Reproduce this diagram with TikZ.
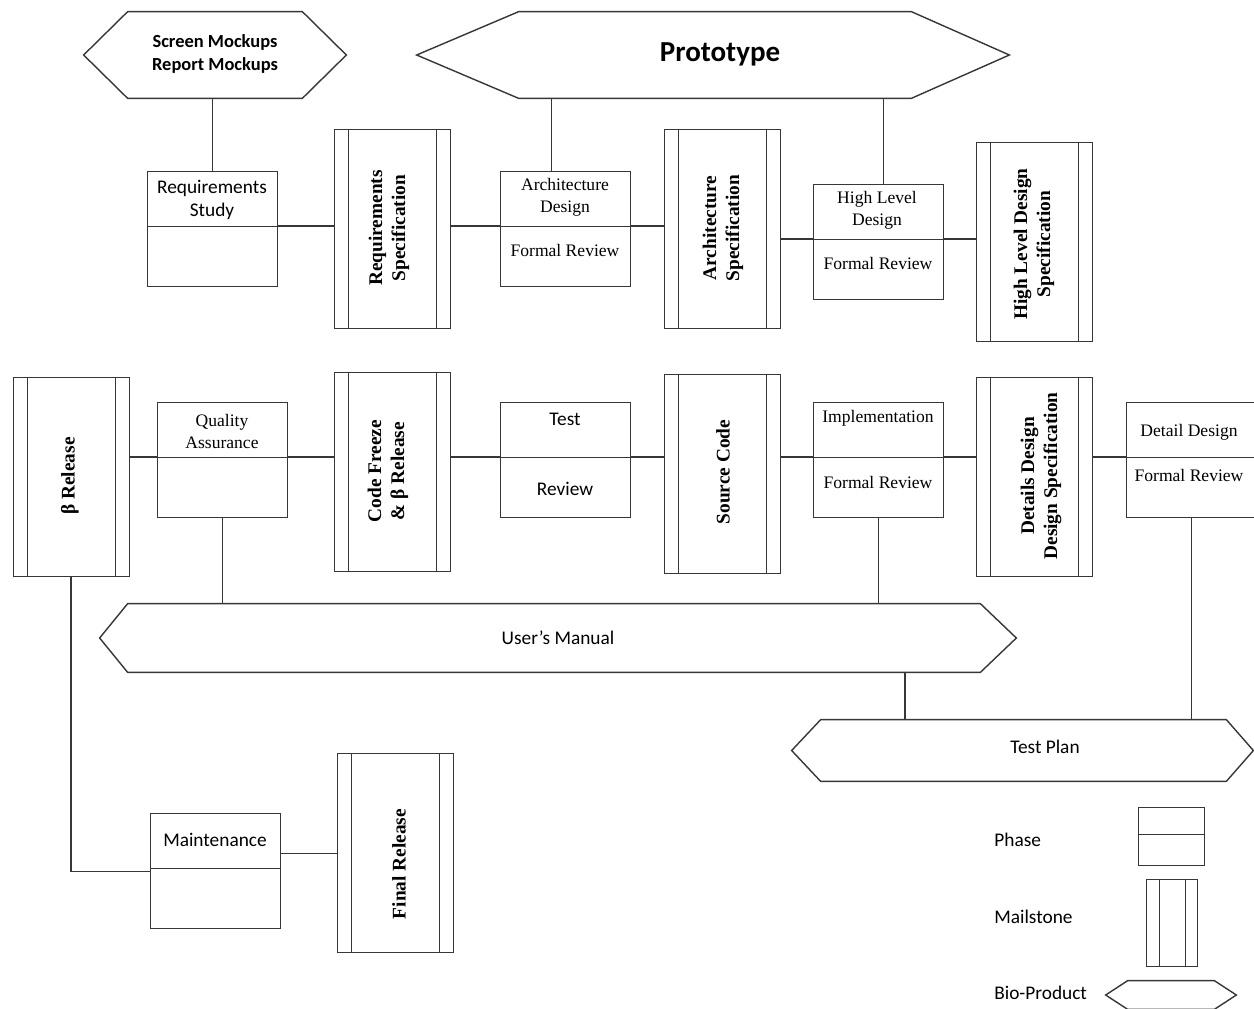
\documentclass[tikz,border=0pt]{standalone}
\usepackage{fontspec}
\setmainfont{Liberation Serif}
\newfontfamily\calib{Carlito}
\newlength\pxl
\setlength\pxl{0.02cm}
\definecolor{ink}{RGB}{55,55,55}
% hexagonal by-product outline around an invisible rectangular node:
% #1 node name, #2 left point depth, #3 right point depth (in px units)
\newcommand\bioshape[3]{%
  \draw[line] (#1.north west) -- (#1.north east) -- ([xshift=#3\pxl]#1.east)
    -- (#1.south east) -- (#1.south west) -- ([xshift=-#2\pxl]#1.west) -- cycle;}
\begin{document}
\begin{tikzpicture}[x=0.02cm,y=-0.02cm,
  line/.style={draw=ink, line width=0.8pt},
  phase/.style={rectangle, draw=ink, line width=0.8pt, minimum width=130\pxl,
    minimum height=115\pxl, inner sep=0pt, anchor=north west,
    path picture={\draw[ink, line width=0.8pt]
      ([yshift=-#1]path picture bounding box.north west) --
      ([yshift=-#1]path picture bounding box.north east);}},
  phase/.default=55\pxl,
  milestone/.style={rectangle, draw=ink, line width=0.8pt, minimum width=116\pxl,
    minimum height=199\pxl, inner sep=0pt, anchor=north west,
    path picture={\draw[ink, line width=0.8pt]
      ([xshift=#1]path picture bounding box.north west) --
      ([xshift=#1]path picture bounding box.south west)
      ([xshift=-#1]path picture bounding box.north east) --
      ([xshift=-#1]path picture bounding box.south east);}},
  milestone/.default=14\pxl,
  hexbox/.style={rectangle, inner sep=0pt, draw=none},
  sans/.style={font=\calib\fontsize{11}{13.5}\selectfont, align=center, text=black, inner sep=0pt},
  serif/.style={font=\fontsize{10}{12.5}\selectfont, align=center, text=black, inner sep=0pt},
  mile/.style={font=\bfseries\fontsize{11}{13}\selectfont, align=center, rotate=90, text=black, inner sep=0pt}
]
\useasboundingbox (0,0) rectangle (1254,1008);

% ---------------- by-products ----------------
\node[hexbox, minimum width=174\pxl, minimum height=86\pxl] (smock) at (215,55) {};
\bioshape{smock}{44}{44}
\node[font=\calib\bfseries\fontsize{10.5}{13}\selectfont, align=center, inner sep=0pt] (smock-t) at (215,54) {Screen Mockups\\Report Mockups};

\node[hexbox, minimum width=392\pxl, minimum height=86\pxl] (proto) at (715,55) {};
\bioshape{proto}{102}{98}
\node[font=\calib\bfseries\fontsize{16.5}{18}\selectfont, inner sep=0pt] (proto-t) at (720,54) {Prototype};

\node[hexbox, minimum width=852\pxl, minimum height=68\pxl] (uman) at (554,638) {};
\bioshape{uman}{28}{36}
\node[sans] (uman-t) at (558,638) {User’s Manual};

\node[hexbox, minimum width=405\pxl, minimum height=61\pxl] (tplan) at (1023.5,750.5) {};
\bioshape{tplan}{29}{27}
\node[sans] (tplan-t) at (1045,747) {Test Plan};

% ---------------- first row ----------------
\node[phase] (rstudy) at (147,171) {};
\node[sans] (rstudy-t) at (212,200) {Requirements\\Study};
\node[milestone] (rspec) at (334,129) {};
\node[mile] (rspec-t) at (389,228) {Requirements\\Specification};
\node[phase] (archd) at (500,171) {};
\node[serif] (archd-t) at (565,197) {Architecture\\Design};
\node[serif] (archd-r) at (565,250) {Formal Review};
\node[milestone] (aspec) at (664,129) {};
\node[mile] (aspec-t) at (723,228) {Architecture\\Specification};
\node[phase] (hld) at (813,184) {};
\node[serif] (hld-t) at (877,210) {High Level\\Design};
\node[serif] (hld-r) at (878,263) {Formal Review};
\node[milestone] (hspec) at (976,142) {};
\node[mile] (hspec-t) at (1034,244) {High Level Design\\Specification};

% ---------------- second row ----------------
\node[milestone] (betar) at (13,377) {};
\node[mile] (betar-t) at (70,476) {β Release};
\node[phase] (qa) at (157,402) {};
\node[serif] (qa-t) at (222,431) {Quality\\Assurance};
\node[milestone] (cf) at (334,372) {};
\node[mile] (cf-t) at (388,471) {Code Freeze\\\& β Release};
\node[phase] (test) at (500,402) {};
\node[sans] (test-t) at (565,419) {Test};
\node[sans] (test-r) at (565,489) {Review};
\node[milestone] (src) at (664,374) {};
\node[mile] (src-t) at (723,472) {Source Code};
\node[phase] (impl) at (813,402) {};
\node[serif] (impl-t) at (878,418) {Implementation};
\node[serif] (impl-r) at (878,482) {Formal Review};
\node[milestone] (dds) at (976,377) {};
\node[mile] (dds-t) at (1041,476) {Details Design\\Design Specification};
\node[phase] (dd) at (1126,402) {};
\node[serif] (dd-t) at (1189,432) {Detail Design};
\node[serif] (dd-r) at (1189,475) {Formal Review};

% ---------------- third row ----------------
\node[phase] (maint) at (150,813) {};
\node[sans] (maint-t) at (215,840) {Maintenance};
\node[milestone] (final) at (337,753) {};
\node[mile] (final-t) at (399,864) {Final Release};

% ---------------- divider levels used by the connectors ----------------
\coordinate (rstudy-d) at ([yshift=-55\pxl]rstudy.north east);
\coordinate (archd-d) at ([yshift=-55\pxl]archd.north west);
\coordinate (hld-d) at ([yshift=-55\pxl]hld.north west);
\coordinate (row2) at ([yshift=-55\pxl]qa.north west);

% ---------------- connectors ----------------
\draw[line] (rstudy.north |- smock.south) -- (rstudy.north);
\coordinate (pa) at ([xshift=-14\pxl]archd.north);
\draw[line] (pa |- proto.south) -- (pa);
\coordinate (ph) at ([xshift=5\pxl]hld.north);
\draw[line] (ph |- proto.south) -- (ph);

\draw[line] (rstudy-d) -- (rstudy-d -| rspec.west);
\draw[line] (rstudy-d -| rspec.east) -- (archd-d);
\draw[line] (archd-d -| archd.east) -- (archd-d -| aspec.west);
\draw[line] (hld-d -| aspec.east) -- (hld-d);
\draw[line] (hld-d -| hld.east) -- (hld-d -| hspec.west);

\draw[line] (row2 -| betar.east) -- (row2 -| qa.west);
\draw[line] (row2 -| qa.east) -- (row2 -| cf.west);
\draw[line] (row2 -| cf.east) -- (row2 -| test.west);
\draw[line] (row2 -| test.east) -- (row2 -| src.west);
\draw[line] (row2 -| src.east) -- (row2 -| impl.west);
\draw[line] (row2 -| impl.east) -- (row2 -| dds.west);
\draw[line] (row2 -| dds.east) -- (row2 -| dd.west);

\draw[line] (qa.south) -- (qa.south |- uman.north);
\draw[line] (impl.south) -- (impl.south |- uman.north);
\coordinate (um) at ([xshift=351\pxl]uman.south);
\draw[line] (um) -- (um |- tplan.north);
\draw[line] (dd.south) -- (dd.south |- tplan.north);

\draw[line] (betar.south -| 71,0) |- (maint.west);
\draw[line] (maint.east |- final.west) -- (final.west);

% ---------------- legend ----------------
\node[sans, anchor=west] (lg-phase) at (994,840) {Phase};
\node[phase=27\pxl, minimum width=66\pxl, minimum height=58\pxl] (lg-pbox) at (1138,807) {};
\node[sans, anchor=west] (lg-mile) at (994,917) {Mailstone};
\node[milestone=12.5\pxl, minimum width=51\pxl, minimum height=87\pxl] (lg-mbox) at (1146,879) {};
\node[sans, anchor=west] (lg-bio) at (994,993) {Bio-Product};
\node[hexbox, minimum width=86\pxl, minimum height=28\pxl] (lg-hex) at (1171,995) {};
\bioshape{lg-hex}{22}{22}
\end{tikzpicture}
\end{document}
